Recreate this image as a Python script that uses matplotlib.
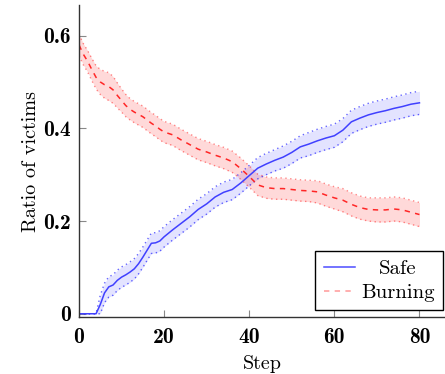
import matplotlib
matplotlib.use("Agg")
import matplotlib.pyplot as plt
import numpy as np
from matplotlib.lines import Line2D

plt.rcParams['axes.formatter.use_mathtext'] = True
plt.rcParams['mathtext.fontset'] = 'cm'

# ---- data ----
safe_x = [0, 2, 4, 5, 6, 7, 8, 9, 10, 11, 12, 13, 14, 15, 16, 17, 18, 19, 20,
          22, 24, 26, 28, 30, 32, 34, 36, 38, 40, 42, 44, 46, 48, 50, 52, 54,
          56, 58, 60, 62, 64, 66, 68, 70, 72, 74, 76, 78, 80]
safe_y = [0, 0, 0, 0.02, 0.045, 0.058, 0.062, 0.072, 0.079, 0.084, 0.09, 0.097,
          0.108, 0.122, 0.137, 0.152, 0.153, 0.157, 0.166, 0.181, 0.195, 0.209,
          0.225, 0.237, 0.252, 0.262, 0.268, 0.282, 0.298, 0.314, 0.323, 0.331,
          0.338, 0.348, 0.36, 0.366, 0.373, 0.379, 0.384, 0.396, 0.414, 0.422,
          0.429, 0.434, 0.438, 0.443, 0.447, 0.452, 0.455]
safe_sd = [0, 0, 0, 0.02, 0.021, 0.022, 0.022, 0.022, 0.022, 0.022, 0.022, 0.022,
           0.022, 0.022, 0.022, 0.022, 0.022, 0.022, 0.022, 0.022, 0.022, 0.022,
           0.022, 0.022, 0.022, 0.022, 0.022, 0.022, 0.022, 0.023, 0.023, 0.023,
           0.024, 0.024, 0.024, 0.025, 0.025, 0.025, 0.025, 0.025, 0.025, 0.025,
           0.025, 0.025, 0.025, 0.025, 0.025, 0.025, 0.025]

burn_x = [0, 1, 2, 3, 4, 5, 6, 7, 8, 9, 10, 11, 12, 13, 14, 15, 16, 17, 18, 19,
          20, 22, 24, 26, 28, 30, 32, 34, 36, 38, 40, 42, 44, 46, 48, 50, 52, 54,
          56, 58, 60, 62, 64, 66, 68, 70, 72, 74, 76, 78, 80]
burn_y = [0.58, 0.56, 0.545, 0.527, 0.51, 0.50, 0.494, 0.49, 0.483, 0.471, 0.46,
          0.449, 0.441, 0.435, 0.43, 0.425, 0.418, 0.411, 0.405, 0.398, 0.392,
          0.386, 0.375, 0.365, 0.355, 0.349, 0.342, 0.336, 0.328, 0.313, 0.296,
          0.278, 0.272, 0.27, 0.27, 0.268, 0.266, 0.265, 0.263, 0.256, 0.25,
          0.245, 0.236, 0.229, 0.225, 0.224, 0.224, 0.226, 0.224, 0.219, 0.214]
burn_sd = [0.023, 0.023, 0.023, 0.024, 0.025, 0.027, 0.029, 0.03, 0.029, 0.027,
           0.025, 0.024, 0.023, 0.023, 0.023, 0.023, 0.023, 0.023, 0.023, 0.023,
           0.023, 0.023, 0.023, 0.023, 0.023, 0.023, 0.023, 0.023, 0.023, 0.023,
           0.023, 0.023, 0.023, 0.023, 0.023, 0.023, 0.023, 0.023, 0.024, 0.024,
           0.024, 0.025, 0.025, 0.025, 0.025, 0.026, 0.026, 0.026, 0.026, 0.026,
           0.026]

xticks = [0, 20, 40, 60, 80]
xticklabels = ["0", "20", "40", "60", "80"]
yticks = [0, 0.2, 0.4, 0.6]
yticklabels = ["0", "0.2", "0.4", "0.6"]

# ---- figure ----
fig = plt.figure(figsize=(4.45, 3.74), dpi=100)
ax = fig.add_axes([79/445, (374-317)/374, (445-79)/445, (317-5)/374])

blue = (0.0, 0.0, 1.0)
red = (1.0, 0.0, 0.0)

sx = np.array(safe_x); sy = np.array(safe_y); ss = np.array(safe_sd)
bx = np.array(burn_x); by = np.array(burn_y); bs = np.array(burn_sd)

ax.fill_between(sx, sy - ss, sy + ss, color=blue, alpha=0.11, lw=0)
ax.plot(sx, sy - ss, color=blue, lw=1.0, ls=(0, (1, 2.5)), alpha=0.6)
ax.plot(sx, sy + ss, color=blue, lw=1.0, ls=(0, (1, 2.5)), alpha=0.6)

ax.fill_between(bx, by - bs, by + bs, color=red, alpha=0.15, lw=0)
ax.plot(bx, by - bs, color=red, lw=1.0, ls=(0, (1, 2.5)), alpha=0.45)
ax.plot(bx, by + bs, color=red, lw=1.0, ls=(0, (1, 2.5)), alpha=0.45)

ax.plot(sx, sy, color=(0.25, 0.25, 1.0), lw=1.1)
ax.plot(bx, by, color=(1.0, 0.15, 0.15), lw=1.1, ls=(0, (3.5, 3.5)))

ax.set_xlim(0, 86)
ax.set_ylim(-0.007, 0.666)

for s in ['top', 'right']:
    ax.spines[s].set_visible(False)
for s in ['left', 'bottom']:
    ax.spines[s].set_linewidth(1.0)
    ax.spines[s].set_color('#333333')

ax.set_xticks(xticks)
ax.set_xticklabels(xticklabels)
ax.set_yticks(yticks)
ax.set_yticklabels(yticklabels)
ax.tick_params(direction='in', length=5, width=0.8, color='#888888',
               labelsize=15.5, labelfontfamily='cmb10', pad=6)
ax.tick_params(axis='x', pad=8)

ax.set_xlabel("Step", fontsize=14.5, family='cmr10', labelpad=6)
ax.set_ylabel("Ratio of victims", fontsize=14.5, family='cmr10', labelpad=2)

h1 = Line2D([], [], color=(0.3, 0.3, 1.0), lw=1.1)
h2 = Line2D([], [], color=(1.0, 0.6, 0.6), lw=1.1, ls=(0, (3.5, 3.5)))
leg = ax.legend([h1, h2], ["Safe", "Burning"], loc='lower right',
                bbox_to_anchor=(0.995, 0.022), borderaxespad=0,
                prop={'family': 'cmr10', 'size': 15}, fancybox=False,
                framealpha=1, edgecolor='black', handlelength=1.5,
                handletextpad=0.3, labelspacing=0.25, borderpad=0.4)
leg.get_frame().set_linewidth(1.0)

fig.canvas.draw()
r = fig.canvas.get_renderer()
texts = leg.get_texts()
ws = [t.get_window_extent(r).width for t in texts]
wmax = max(ws)
for t, w in zip(texts, ws):
    t.set_position(((wmax - w) / 2, 0))

fig.savefig("out.png", dpi=100)
